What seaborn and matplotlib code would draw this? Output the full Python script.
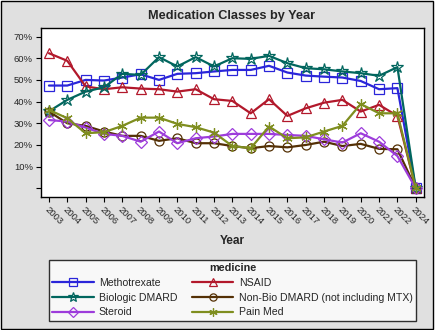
import matplotlib
matplotlib.use("Agg")
import matplotlib.pyplot as plt
from matplotlib.lines import Line2D
from matplotlib.patches import Rectangle
import seaborn as sns
import pandas as pd

years = ["2003", "2004", "2005", "2006", "2007", "2008", "2009", "2010", "2011", "2012",
         "2013", "2014", "2015", "2016", "2017", "2018", "2019", "2020", "2021", "2022", "2024"]

methotrexate = [47.4, 47.4, 50.0, 49.7, 51.1, 52.6, 50.0, 52.8, 53.1, 53.9,
                54.6, 54.6, 56.5, 53.4, 52.0, 51.5, 51.1, 49.5, 45.7, 46.2, 0.0]
nsaid = [62.3, 58.8, 47.0, 45.7, 46.6, 46.0, 45.7, 44.6, 45.7, 41.1,
         40.3, 34.6, 41.1, 33.4, 36.9, 39.5, 40.8, 35.4, 38.5, 33.4, 0.0]
biologic = [35.5, 40.8, 44.6, 46.6, 52.8, 52.3, 60.5, 56.2, 60.5, 56.2,
            60.0, 59.7, 61.1, 57.7, 55.4, 54.9, 53.9, 53.1, 51.9, 55.9, 0.0]
nonbio = [35.4, 30.0, 28.8, 26.2, 24.2, 24.2, 21.9, 23.1, 20.8, 20.8,
          19.5, 18.5, 19.5, 18.9, 20.0, 21.5, 19.5, 20.5, 18.2, 18.0, 0.0]
steroid = [31.5, 30.8, 28.0, 25.1, 24.2, 21.5, 26.2, 20.8, 23.1, 23.9,
           25.1, 25.1, 25.1, 24.6, 24.2, 22.6, 21.1, 25.4, 21.5, 14.9, 0.0]
painmed = [36.2, 32.3, 25.4, 25.9, 28.8, 32.6, 32.6, 29.7, 28.2, 25.7,
           19.5, 18.5, 28.5, 23.1, 23.5, 26.2, 28.8, 38.9, 34.6, 34.6, 0.0]

medicines = ["Methotrexate", "NSAID", "Biologic DMARD",
             "Non-Bio DMARD (not including MTX)", "Steroid", "Pain Med"]
series = [methotrexate, nsaid, biologic, nonbio, steroid, painmed]
colors = ["#2A25D9", "#B2182B", "#01665E", "#543005", "#9D3CDB", "#7F8E1F"]
markers = ["s", "^", "*", "o", "D", (6, 2, 0)]
marker_sizes = [6.5, 7, 9, 6.5, 6, 7.5]

yticks = [0, 10, 20, 30, 40, 50, 60, 70]
ytick_labels = ["", "10%", "20%", "30%", "40%", "50%", "60%", "70%"]

rows = []
for med, vals in zip(medicines, series):
    for i, (yr, v) in enumerate(zip(years, vals)):
        rows.append({"pos": i, "Year": yr, "medicine": med, "pct": v})
df = pd.DataFrame(rows)

sns.set_style("white")
plt.rcParams["font.family"] = ["Liberation Sans", "DejaVu Sans"]

fig = plt.figure(figsize=(4.4, 3.3), dpi=100)
fig.patch.set_facecolor("white")
fig.patches.append(Rectangle((1 / 440, 1 / 330), 432 / 440, 328 / 330,
                             transform=fig.transFigure, facecolor="#E0E0E0",
                             edgecolor="black", linewidth=1, zorder=-10))

ax = fig.add_axes([40.7 / 440, (330 - 197) / 330, (424 - 40.7) / 440, (197 - 28.3) / 330])
ax.set_facecolor("white")

for med, col, mk, ms in zip(medicines, colors, markers, marker_sizes):
    sub = df[df["medicine"] == med]
    sns.lineplot(data=sub, x="pos", y="pct", ax=ax, color=col, linewidth=1.6,
                 marker=mk, markersize=ms, markerfacecolor="none",
                 markeredgecolor=col, markeredgewidth=0.9, legend=False)

ax.set_xlim(-0.45, 20.45)
ax.set_ylim(-4, 73.8)
ax.set_xticks(range(len(years)))
ax.set_xticklabels(years, rotation=-45, ha="left", va="top", rotation_mode="anchor",
                   fontsize=6.8)
ax.set_yticks(yticks)
ax.set_yticklabels(ytick_labels, fontsize=6.8)
ax.tick_params(axis="both", direction="out", length=3.6, width=0.8, color="black",
               left=True, bottom=True, pad=2)
for s in ax.spines.values():
    s.set_color("black")
    s.set_linewidth(1)
ax.set_xlabel("Year", fontsize=8.6, fontweight="bold", labelpad=6)
ax.set_ylabel("")

fig.text(232 / 440, 1 - 16 / 330, "Medication Classes by Year", ha="center", va="center",
         fontsize=9.2, fontweight="bold")

order = [0, 2, 4, 1, 3, 5]
handles = [Line2D([0], [0], color=colors[k], linewidth=1.6, marker=markers[k],
                  markersize=marker_sizes[k] * 0.8, markerfacecolor="none",
                  markeredgecolor=colors[k], markeredgewidth=0.9) for k in order]
labels = [medicines[k] for k in order]
leg = fig.legend(handles, labels, loc="upper left", ncol=2,
                 bbox_to_anchor=(49.3 / 440, 1 - 260 / 330),
                 fontsize=7.6, title="medicine", title_fontproperties={"weight": "bold", "size": 7.8},
                 frameon=True, fancybox=False, handlelength=3.9, handletextpad=0.5,
                 columnspacing=1.4, labelspacing=0.45, borderaxespad=0, borderpad=0.3)
leg.get_frame().set_edgecolor("black")
leg.get_frame().set_linewidth(1)
leg.get_frame().set_facecolor("white")

fig.savefig("out.png", dpi=100)
